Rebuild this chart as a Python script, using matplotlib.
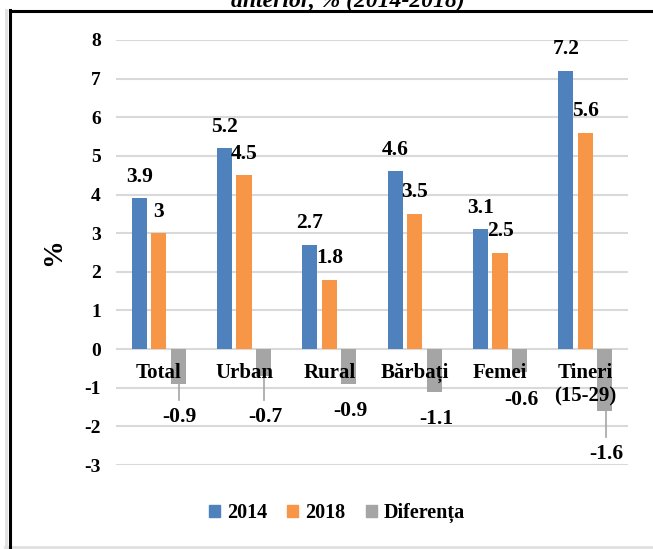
import matplotlib
matplotlib.use("Agg")
import matplotlib.pyplot as plt
from matplotlib.lines import Line2D
from matplotlib.patches import Patch
import numpy as np

categories = ["Total", "Urban", "Rural", "Bărbați", "Femei", "Tineri\n(15-29)"]
v2014 = [3.9, 5.2, 2.7, 4.6, 3.1, 7.2]
v2018 = [3.0, 4.5, 1.8, 3.5, 2.5, 5.6]
diff = [-0.9, -0.7, -0.9, -1.1, -0.6, -1.6]
diff_labels = ["-0.9", "-0.7", "-0.9", "-1.1", "-0.6", "-1.6"]
label2014 = ["3.9", "5.2", "2.7", "4.6", "3.1", "7.2"]
label2018 = ["3", "4.5", "1.8", "3.5", "2.5", "5.6"]
series_names = ["2014", "2018", "Diferența"]
yticks = list(range(-3, 9))

# layout of the moved difference labels (data y of label centre)
diff_label_y = [-1.76, -1.76, -1.60, -1.81, -1.32, -2.72]
leader = [True, True, False, False, False, True]

C14, C18, CD = "#4F81BD", "#F79646", "#A5A5A5"
FONT = "Liberation Serif"
plt.rcParams["font.family"] = [FONT, "DejaVu Serif"]

W, H = 653, 549
fig = plt.figure(figsize=(W / 100, H / 100), dpi=100)
ax = fig.add_axes([116 / W, 1 - 465 / H, 512 / W, 425 / H])

x = np.arange(len(categories))
slot, bw = 0.2285, 0.176
ax.bar(x - slot, v2014, bw, color=C14, zorder=3)
ax.bar(x, v2018, bw, color=C18, zorder=3)
ax.bar(x + slot, diff, bw, color=CD, zorder=3)

ax.set_xlim(-0.5, len(categories) - 0.5)
ax.set_ylim(-3, 8)
ax.set_yticks(yticks)
ax.set_yticklabels([str(t) for t in yticks], fontsize=14, fontweight="bold")
ax.tick_params(axis="y", length=0, pad=11)
ax.set_xticks([])
for s in ax.spines.values():
    s.set_visible(False)
ax.grid(axis="y", color="#D9D9D9", linewidth=1.5, zorder=0)
ax.set_axisbelow(True)

ax.set_ylabel("%", fontsize=20, fontweight="bold", labelpad=13)

VS = 15.5
for i in range(len(categories)):
    ax.annotate(label2014[i], (x[i] - slot, v2014[i]), xytext=(0, 12),
                textcoords="offset points", ha="center", va="baseline",
                fontsize=VS, fontweight="bold", zorder=5)
    ax.annotate(label2018[i], (x[i], v2018[i]), xytext=(0, 12),
                textcoords="offset points", ha="center", va="baseline",
                fontsize=VS, fontweight="bold", zorder=5)
    xd = x[i] + slot + 0.02
    ax.text(xd, diff_label_y[i], diff_labels[i], ha="center", va="center",
            fontsize=VS, fontweight="bold", zorder=5)
    if leader[i]:
        ax.plot([xd - 0.01, xd - 0.01], [diff[i], diff_label_y[i] + 0.45],
                color=CD, linewidth=1.2, zorder=4)

for i, c in enumerate(categories):
    ax.text(x[i], -0.36, c, ha="center", va="top", fontsize=15,
            fontweight="bold", linespacing=1.2, zorder=6)

handles = [Patch(color=c) for c in (C14, C18, CD)]
fig.legend(handles, series_names, loc="center", bbox_to_anchor=(337 / W, 1 - 513 / H),
           ncol=3, frameon=False, prop={"family": FONT, "weight": "bold", "size": 14.5},
           handlelength=0.55, handleheight=0.55, handletextpad=0.35, columnspacing=1.0)

# title, cut at the top edge as in the reference
fig.text(348 / W, 1 - 7 / H, "anterior, % (2014-2018)", ha="center", va="baseline",
         fontsize=17, fontweight="bold", fontstyle="italic")

# page frame
fig.add_artist(Line2D([6 / W, 6 / W], [1 - 10 / H, 1 - 547 / H], color="#E0E0E0", linewidth=2))
fig.add_artist(Line2D([5 / W, 1], [1 - 547 / H, 1 - 547 / H], color="#E0E0E0", linewidth=2))
fig.add_artist(Line2D([9.5 / W, 1], [1 - 10.5 / H, 1 - 10.5 / H], color="black", linewidth=2.2))
fig.add_artist(Line2D([9.5 / W, 9.5 / W], [1 - 10 / H, 0], color="black", linewidth=2.2))

fig.savefig("out.png", dpi=100)
